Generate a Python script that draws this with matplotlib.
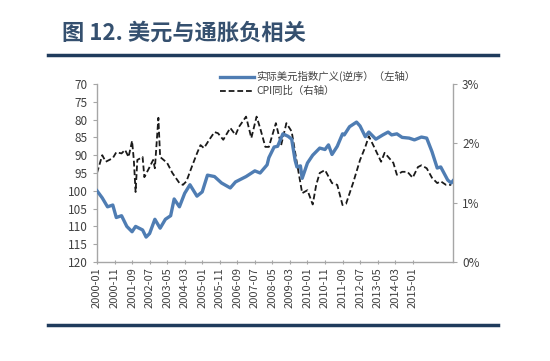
import numpy as np
import pandas as pd
import matplotlib
matplotlib.use("Agg")
import matplotlib.pyplot as plt
from matplotlib.lines import Line2D

plt.rcParams['font.family'] = ['Noto Sans CJK SC', 'DejaVu Sans']

# month offsets from 2000-01
usd_month = [0, 3, 6, 9, 11, 14, 17, 20, 22, 26, 28, 30, 33, 36, 39, 42, 44, 47,
             50, 53, 57, 60, 63, 67, 71, 76, 79, 81, 85, 90, 93, 97, 98, 101,
             103, 106, 109, 111, 113, 114, 116, 117, 120, 123, 127, 130, 132,
             134, 137, 140, 141, 144, 148, 150, 153, 155, 159, 163, 166, 168,
             171, 174, 178, 181, 185, 188, 191, 194, 196, 200, 202, 203]
usd_value = [100, 102, 104.5, 104, 107.5, 107, 110, 111.5, 110, 111, 113, 112,
             108, 110.5, 108, 107, 102.3, 104.5, 100.7, 98.3, 101.5, 100.3,
             95.6, 96, 97.8, 99.2, 97.5, 97, 96, 94.4, 95, 92.7, 90.7, 87.7,
             87.5, 84, 84.7, 85.5, 91.5, 93.3, 93, 96.5, 92.2, 90, 88, 88.4,
             87.1, 89.8, 87.5, 84, 84.3, 82, 80.7, 81.8, 84.8, 83.5, 85.5,
             84.3, 83.5, 84.3, 84, 85, 85.2, 85.7, 84.9, 85.2, 89, 93.6, 93.3,
             97, 97.8, 97.2]

cpi_month = [0, 3, 5, 9, 11, 14, 16, 18, 20, 21, 22, 23, 26, 27, 30, 32, 33,
             35, 36, 38, 40, 43, 47, 49, 51, 54, 57, 59, 61, 64, 67, 69, 72,
             76, 79, 81, 85, 88, 91, 93, 96, 98, 102, 105, 108, 111, 114, 117,
             120, 123, 125, 127, 130, 134, 137, 140, 142, 146, 150, 153, 155,
             158, 162, 164, 169, 171, 174, 177, 180, 183, 185, 188, 191, 194,
             196, 199, 202]
cpi_value = [1.5, 1.8, 1.69, 1.75, 1.85, 1.83, 1.89, 1.77, 2.04, 1.72, 1.18,
             1.72, 1.77, 1.43, 1.6, 1.72, 1.58, 2.43, 1.77, 1.72, 1.67, 1.5,
             1.33, 1.3, 1.36, 1.6, 1.83, 1.97, 1.92, 2.06, 2.19, 2.17, 2.06,
             2.26, 2.14, 2.28, 2.45, 2.09, 2.45, 2.26, 1.94, 1.94, 2.34, 1.97,
             2.34, 2.2, 1.67, 1.16, 1.21, 0.97, 1.3, 1.5, 1.55, 1.33, 1.3,
             0.96, 0.98, 1.33, 1.72, 1.94, 2.12, 1.94, 1.69, 1.84, 1.67, 1.47,
             1.52, 1.52, 1.42, 1.6, 1.63, 1.58, 1.42, 1.33, 1.36, 1.3, 1.3]

tick_labels = ['2000-01', '2000-11', '2001-09', '2002-07', '2003-05', '2004-03',
               '2005-01', '2005-11', '2006-09', '2007-07', '2008-05', '2009-03',
               '2010-01', '2010-11', '2011-09', '2012-07', '2013-05', '2014-03',
               '2015-01']

start = pd.Period('2000-01', freq='M')
tick_pos = [(pd.Period(t, freq='M') - start).n for t in tick_labels]

fig = plt.figure(figsize=(5.5, 3.61), dpi=100)
ax = fig.add_axes([97 / 550, 1 - 262 / 361, 356 / 550, 178 / 361])
ax2 = ax.twinx()

ax.plot(usd_month, usd_value, color='#4f7db3', lw=2.4, zorder=3)
ax2.plot(cpi_month, cpi_value, color='#1a1a1a', lw=1.3, ls=(0, (3.2, 1.6)))
ax.set_zorder(ax2.get_zorder() + 1)
ax.patch.set_visible(False)

ax.set_xlim(0, 203)
ax.set_ylim(120, 70)
ax.set_yticks(np.arange(70, 121, 5))
ax2.set_ylim(0, 3)
ax2.set_yticks([0, 1, 2, 3])
ax2.set_yticklabels(['0%', '1%', '2%', '3%'])
ax.set_xticks(tick_pos)
ax.set_xticklabels(tick_labels, rotation=90)

grey = '#a6a6a6'
txt = '#404040'
for a in (ax, ax2):
    a.spines['top'].set_visible(False)
    for s in ('left', 'right', 'bottom'):
        a.spines[s].set_color(grey)
        a.spines[s].set_linewidth(1)
    a.tick_params(colors=grey, labelcolor=txt, labelsize=8.5, length=3, width=0.8)
ax.spines['right'].set_visible(False)
ax2.spines['left'].set_visible(False)
ax2.spines['bottom'].set_visible(False)
ax.tick_params(axis='x', labelsize=8, length=3, direction='inout', pad=2)

handles = [Line2D([], [], color='#4f7db3', lw=2.4),
           Line2D([], [], color='#1a1a1a', lw=1.3, ls=(0, (3.2, 1.6)))]
fig.legend(handles, ['实际美元指数广义(逆序）（左轴）', 'CPI同比（右轴）'],
           loc='upper left', bbox_to_anchor=(215 / 550, 1 - 66 / 361),
           frameon=False, fontsize=7.5, handlelength=3.2, handletextpad=0.3,
           labelspacing=0.35, labelcolor=txt, borderpad=0)

fig.text(62 / 550, 1 - 33 / 361, '图 12. 美元与通胀负相关', fontsize=16,
         fontweight='bold', color='#35506f', va='center', ha='left')
navy = '#1f3b5c'
fig.add_artist(Line2D([48 / 550, 498 / 550], [1 - 55 / 361] * 2, color=navy, lw=2.5))
fig.add_artist(Line2D([48 / 550, 498 / 550], [1 - 325 / 361] * 2, color=navy, lw=2.5))

fig.savefig('out.png', dpi=100)
